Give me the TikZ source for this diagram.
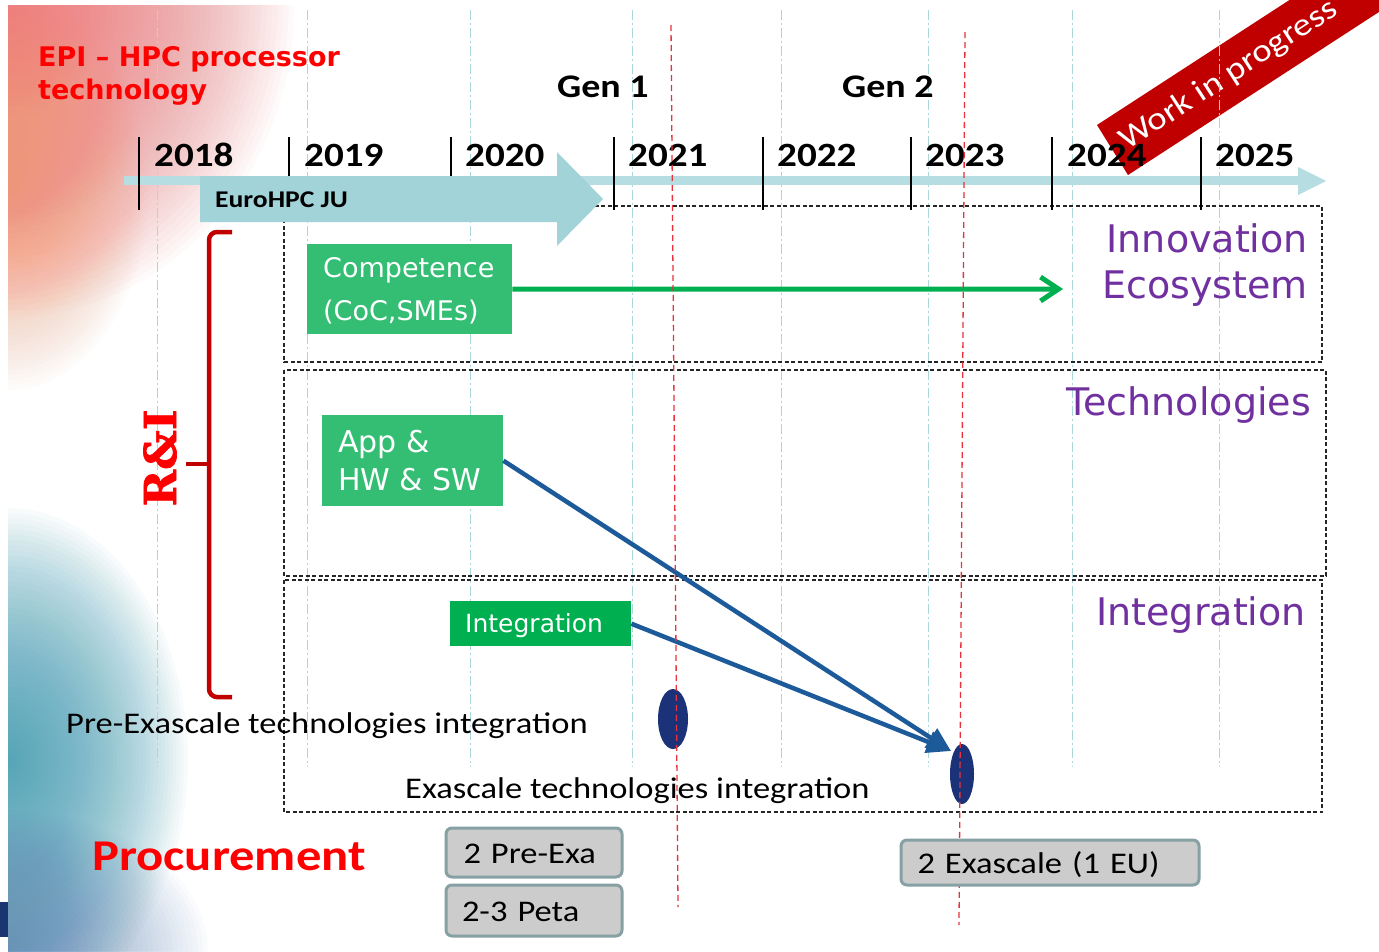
\documentclass[tikz,border=0pt]{standalone}
\usepackage{fontspec}
\newfontfamily\carl[FakeStretch=1.15]{Carlito}
\newfontfamily\dvs{DejaVu Sans}
\newfontfamily\slabfont[BoldFeatures={FakeBold=1.6}]{DejaVu Serif}
\usetikzlibrary{arrows.meta,shapes.geometric}
\definecolor{bgpink}{HTML}{EE6E70}
\definecolor{bgorange}{HTML}{F4966C}
\definecolor{bgteal}{HTML}{3A9AB3}
\definecolor{bgblue}{HTML}{4A78AE}
\definecolor{gridcol}{HTML}{A9D7DC}
\definecolor{axiscol}{HTML}{B6DDE1}
\definecolor{eurocol}{HTML}{A1D3D8}
\definecolor{wipred}{HTML}{C00000}
\definecolor{brkred}{HTML}{C00000}
\definecolor{purp}{HTML}{7030A0}
\definecolor{gbox}{HTML}{34BE74}
\definecolor{gint}{HTML}{00B050}
\definecolor{garr}{HTML}{00B050}
\definecolor{barr}{HTML}{1D5A99}
\definecolor{navy}{HTML}{1B3278}
\definecolor{redline}{HTML}{E8323C}
\definecolor{grayfill}{HTML}{CCCCCC}
\definecolor{grayedge}{HTML}{86A0A3}
\definecolor{cornernavy}{HTML}{1A3570}
\begin{document}
\begin{tikzpicture}[x=1pt,y=-1pt,
  gridl/.style={gridcol, line width=1pt, dash pattern=on 10pt off 3pt on 2pt off 3pt},
  dbox/.style={black!85, line width=1.2pt, dash pattern=on 4pt off 2.5pt},
  tickl/.style={black, line width=1.2pt},
  yrlab/.style={anchor=base west, inner sep=0pt, font=\carl\bfseries\fontsize{34}{40}\selectfont},
  genlab/.style={anchor=base west, inner sep=0pt, font=\carl\bfseries\fontsize{33}{40}\selectfont},
  titlab/.style={anchor=base west, inner sep=0pt, text=red, font=\dvs\bfseries\fontsize{27}{32}\selectfont},
  purlab/.style={anchor=base east, inner sep=0pt, text=purp, font=\dvs\fontsize{38}{44}\selectfont},
  greenbox/.style={fill=gbox, anchor=north west, inner sep=0pt},
  wtxt/.style={anchor=base west, inner sep=0pt, text=white, font=\dvs\fontsize{#1}{#1}\selectfont},
  bodytxt/.style={anchor=base west, inner sep=0pt, font=\carl\fontsize{30}{36}\selectfont},
  graybox/.style={draw=grayedge, fill=grayfill, line width=3pt, rounded corners=6pt,
     anchor=north west, text height=22pt, text depth=0pt, inner ysep=0pt, align=left,
     font=\carl\fontsize{30}{36}\selectfont},
  garrow/.style={garr, line width=5pt, -{Straight Barb[length=18pt,width=24pt]}},
  barrow/.style={barr, line width=4.5pt, -{Triangle[length=24pt,width=22pt]}},
  redl/.style={redline, line width=1.3pt, dash pattern=on 6pt off 4pt},
  bracket/.style={brkred, line width=4.5pt, rounded corners=8pt}
]
\useasboundingbox (0,0) rectangle (1379,951);
\fill[white] (0,0) rectangle (1379,951);
% background gradients (stacked translucent rings)
\begin{scope}
  \clip (8,5) rectangle (1379,951);
  \foreach \k in {1,...,52}
    \fill[bgpink, opacity=0.03] (8,5) ellipse [x radius=5.5*\k, y radius=6*\k];
  \foreach \k in {1,...,40}
    \fill[bgorange, opacity=0.025] (8,190) ellipse [x radius=3.5*\k, y radius=5*\k];
  \foreach \k in {1,...,48}
    \fill[bgteal, opacity=0.03] (8,760) ellipse [x radius=3.75*\k, y radius=5.25*\k];
  \foreach \k in {1,...,40}
    \fill[bgblue, opacity=0.025] (8,951) ellipse [x radius=5*\k, y radius=3.5*\k];
\end{scope}
\fill[cornernavy] (0,902) rectangle (8,937);
% work in progress banner
\begin{scope}
  \clip (0,0) rectangle (1379,951);
  \fill[wipred] (1097,125) -- (1128,175) -- (1463.6,-43) -- (1432.6,-93) -- cycle;
  \node[rotate=33, anchor=west, inner sep=0pt, text=white, font=\carl\fontsize{32}{38}\selectfont] (wip) at (1123,144) {Work in progress};
\end{scope}
% grid lines
\foreach \gx in {157,307,470,632,781,928,1072,1219}
  \draw[gridl] (\gx,10) -- (\gx,767);
% dashed zones
\draw[dbox] (284,206) rectangle (1322,362);
\draw[dbox] (284,370) rectangle (1326,576);
\draw[dbox] (284,580) rectangle (1322,812);
% axis
\draw[axiscol, line width=9pt] (124,180.5) -- (1299,180.5);
\fill[axiscol] (1298,167) -- (1326,181) -- (1298,195) -- cycle;
% ticks and years
\foreach \tx/\yr/\lx in {139/2018/154, 289/2019/304, 451/2020/465, 614/2021/628, 763/2022/777, 911/2023/925, 1052/2024/1067, 1201/2025/1215}{
  \draw[tickl] (\tx,137) -- (\tx,210);
  \node[yrlab] (y\yr) at (\lx,166) {\yr};
}
% EuroHPC arrow
\fill[eurocol] (200,176) -- (557,176) -- (557,152) -- (603,199) -- (557,246) -- (557,222) -- (200,222) -- cycle;
\node[anchor=base west, inner sep=0pt, font=\carl\bfseries\fontsize{24}{28}\selectfont] (euro) at (215,207) {EuroHPC JU};
% title and gens
\node[titlab] (tit1) at (38,66) {EPI – HPC processor};
\node[titlab] (tit2) at (38,99) {technology};
\node[genlab] (gen1) at (557,97) {Gen 1};
\node[genlab] (gen2) at (842,97) {Gen 2};
% zone labels
\node[purlab] (innov) at (1308,252) {Innovation};
\node[purlab] (ecosys) at (1308,298) {Ecosystem};
\node[purlab] (techno) at (1311,415) {Technologies};
\node[purlab] (integl) at (1306,625) {Integration};
% bracket and R&I
\draw[bracket] (232,232) -- (209,232) -- (209,697) -- (232,697);
\draw[brkred, line width=4.5pt] (186,464) -- (209,464);
\node[rotate=90, inner sep=0pt, text=red, font=\slabfont\bfseries\fontsize{44}{48}\selectfont] (ri) at (160,458) {R\&I};
% green boxes
\node[greenbox, minimum width=205pt, minimum height=90pt] (comp) at (307,244) {};
\node[wtxt=27] (compa) at (323,277) {Competence};
\node[wtxt=27] (compb) at (323,320) {(CoC,SMEs)};
\node[greenbox, minimum width=181pt, minimum height=91pt] (app) at (322,415) {};
\node[wtxt=30] (appa) at (338,452) {App \&};
\node[wtxt=30] (appb) at (338,490) {HW \& SW};
\node[greenbox, fill=gint, minimum width=181pt, minimum height=45pt] (integ) at (450,601) {};
\node[wtxt=25] (integt) at (465,632) {Integration};
% ellipses
\node[ellipse, fill=navy, inner sep=0pt, minimum width=30pt, minimum height=60pt] (e1) at (673,719) {};
\node[ellipse, fill=navy, inner sep=0pt, minimum width=24pt, minimum height=60pt] (e2) at (962,774) {};
% arrows
\coordinate (gend) at (1063,289);
\coordinate (tip) at (951,751);
\draw[garrow] (comp.east) -- (gend);
\draw[barrow] (app.east) -- (tip);
\draw[barrow] (integ.east) -- (tip);
% body texts
\node[bodytxt] (preexa) at (66,733) {Pre-Exascale technologies integration};
\node[bodytxt] (exa) at (405,798) {Exascale technologies integration};
\node[anchor=base west, inner sep=0pt, text=red, font=\carl\bfseries\fontsize{44}{50}\selectfont] (proc) at (92,870) {Procurement};
% red dashed lines
\draw[redl] (671,25) -- (678,907);
\draw[redl] (965,32) -- (959,925);
% gray boxes
\node[graybox, minimum width=176pt, minimum height=49pt, inner xsep=17.5pt, text width=141pt] (preexabox) at (444.5,826.5) {2 Pre-Exa};
\node[graybox, minimum width=176pt, minimum height=51pt, inner xsep=16pt, text width=144pt] (petabox) at (444.5,883.5) {2-3 Peta};
\node[graybox, minimum width=298pt, minimum height=45pt, inner xsep=16.5pt, text width=265pt] (exabox) at (899.5,838.5) {2 Exascale (1 EU)};
\end{tikzpicture}
\end{document}
